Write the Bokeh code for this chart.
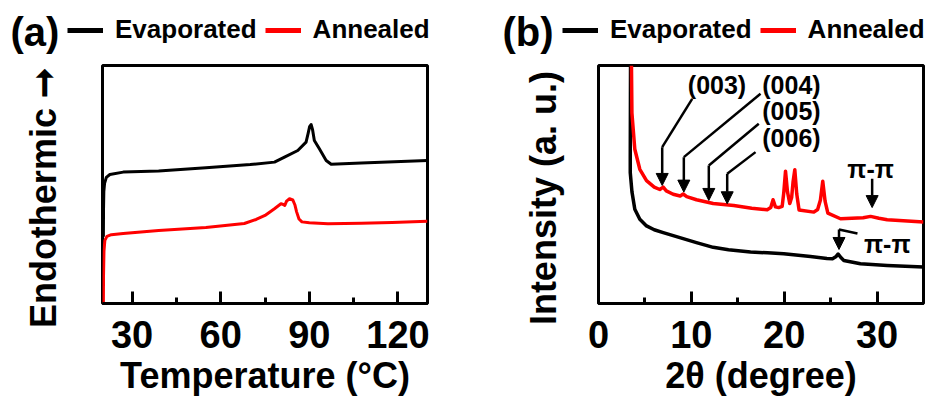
from bokeh.plotting import figure
from bokeh.layouts import row, column
from bokeh.models import (Range1d, FixedTicker, Legend, LegendItem, Arrow, LinearAxis, Label,
                          NormalHead, ColumnDataSource)
from bokeh.core.properties import value
from bokeh.embed import file_html
from bokeh.resources import INLINE

FONT = "Liberation Sans"

# ---------------- (a) DSC data ----------------
temp_evap = [20.3, 20.35, 20.45, 20.7, 21.3, 22.5, 27, 39, 55, 70, 78.2, 81.6, 86.1, 88.9,
             89.6, 90.1, 90.6, 91.1, 91.7, 93.4, 95.7, 97.4, 107.6, 130]
heat_evap = [28, 40, 47, 50.5, 53, 54.2, 55.2, 55.7, 57, 58.4, 59.4, 61.5, 64.3, 67.8,
             71.5, 74.3, 75.2, 73.0, 68.5, 65.0, 60.1, 58.5, 59.0, 60.1]
temp_anneal = [20.3, 20.35, 20.5, 20.8, 21.5, 23, 27, 39, 55, 68, 72, 75, 78.2, 80.4, 81.2,
               81.7, 82.3, 83.3, 84.4, 85.1, 85.7, 86.5, 87.5, 90, 96.3, 107.6, 118, 130]
heat_anneal = [0, 12, 22, 26.5, 28.2, 28.9, 29.4, 30.7, 31.9, 33.6, 35.3, 37.0, 39.8, 41.9, 41.6,
               41.2, 43.0, 44.0, 43.5, 41.5, 38.5, 35.5, 34.3, 33.9, 33.5, 33.7, 34.0, 34.6]
dsc_ticks = [30, 60, 90, 120]
dsc_minor = [45, 75, 105]

# ---------------- (b) XRD data ----------------
tt_evap = [3.45, 3.42, 3.42, 3.6, 3.91, 4.45, 5.17, 6.0, 6.97, 8.76, 10.55, 12.35, 14.0, 16.37,
           18.2, 19.95, 22.83, 24.6, 25.2, 25.55, 25.81, 26.1, 26.42, 28.21, 31.09, 35.0]
int_evap = [100, 62, 55, 47, 39.6, 35.4, 32.6, 31.0, 29.8, 27.7, 25.6, 23.6, 22.6, 21.6,
            21.3, 20.9, 19.7, 18.9, 18.8, 19.6, 20.8, 19.3, 18.1, 16.7, 16.0, 15.3]
tt_anneal = [3.55, 3.6, 3.91, 4.45, 5.17, 6.0, 6.6, 6.97, 7.3, 8.04, 8.8, 9.12, 9.5, 10.55,
             12.35, 14.57, 16.5, 18.17, 18.55, 18.8, 19.05, 19.4, 19.78, 19.95, 20.14, 20.35,
             20.6, 20.8, 20.95, 21.14, 21.35, 21.6, 23.19, 23.6, 23.9, 24.15, 24.4, 24.7,
             26.06, 28.5, 29.3, 30.2, 31.09, 35.0]
int_anneal = [100, 80, 64.8, 56.4, 51.6, 48.9, 47.9, 48.9, 47.3, 45.9, 45.2, 46.0, 44.9, 43.6,
              42.0, 41.2, 40.0, 39.4, 40.3, 43.6, 40.6, 40.3, 40.8, 46.5, 55.6, 47.0,
              42.0, 44.5, 51.0, 56.2, 46.0, 39.3, 38.4, 39.5, 43.5, 51.4, 43.0, 38.0,
              35.6, 36.0, 36.6, 35.8, 35.2, 34.2]
xrd_ticks = [0, 10, 20, 30]
xrd_minor = [5, 15, 25]

# peak annotations (label text, label position, leader start, bend, arrow tip)
peak_labels = ["(003)", "(004)", "(005)", "(006)", "π-π", "π-π"]
peak_label_x = [12.76, 20.78, 20.78, 20.78, 29.3, 31.1]
peak_label_y = [91.6, 91.6, 80.7, 69.5, 56.7, 24.8]
leader_x0 = [10.09, 17.45, 17.26, 16.91, 27.89]
leader_y0 = [86.0, 88.1, 75.5, 63.6, 29.4]
leader_x1 = [6.86, 9.19, 11.88, 13.86, 25.9]
leader_y1 = [65.7, 61.5, 58.0, 54.5, 31.1]
arrow_x = [6.86, 9.19, 11.88, 13.86, 25.9, 29.47]
arrow_y0 = [65.7, 61.5, 58.0, 54.5, 31.1, 52.4]
arrow_y1 = [49.6, 46.8, 43.3, 41.9, 22.7, 40.3]

series_names = ["Evaporated", "Annealed"]
panel_tags = ["(a)", "(b)"]
BLACK = "#000000"
RED = "#ff0000"

HEAD_H = 58
MAIN_H = 401 - HEAD_H
# non-breaking spaces after the y titles push their visible part slightly down,
# as in the original where they sit a little below the frame centre
PAD = "\u00a0\u00a0\u2009"


def make_fig(left, right, xr, ticks, minor, xlabel, ylabel, ygap):
    p = figure(width=465, height=MAIN_H, x_range=Range1d(*xr), y_range=Range1d(0, 100),
               output_backend="svg", toolbar_location=None, y_axis_location=None,
               min_border_left=left, min_border_right=right, min_border_top=65 - HEAD_H,
               min_border_bottom=98, title=None)
    p.grid.visible = False
    p.outline_line_color = "black"
    p.outline_line_width = 3
    p.outline_line_alpha = 1
    p.background_fill_color = "white"
    p.border_fill_color = "white"
    ax = p.xaxis[0]
    ax.ticker = FixedTicker(ticks=ticks, minor_ticks=minor)
    ax.axis_line_width = 3
    ax.major_tick_line_width = 3
    ax.minor_tick_line_width = 3
    ax.major_tick_in = 12
    ax.major_tick_out = 0
    ax.minor_tick_in = 6
    ax.minor_tick_out = 0
    ax.major_label_text_font = FONT
    ax.major_label_text_font_style = "bold"
    ax.major_label_text_font_size = "38px"
    ax.major_label_text_color = "black"
    ax.major_label_standoff = 17
    ax.axis_label = xlabel
    ax.axis_label_text_font = FONT
    ax.axis_label_text_font_style = "bold"
    ax.axis_label_text_font_size = "36px"
    ax.axis_label_text_color = "black"
    ax.axis_label_standoff = 4
    # y axis without ticks or tick labels (as in the original figure)
    yax = LinearAxis(ticker=FixedTicker(ticks=[]), axis_line_color=None,
                     major_tick_in=0, major_tick_out=0, minor_tick_in=0, minor_tick_out=0,
                     major_tick_line_color=None, minor_tick_line_color=None,
                     axis_label=ylabel + PAD, axis_label_standoff=ygap,
                     axis_label_text_font=FONT, axis_label_text_font_style="bold",
                     axis_label_text_font_size="36px", axis_label_text_color="black")
    p.add_layout(yax, "left")
    return p


# ---------------- header: panel tags and legends ----------------
head = figure(width=930, height=HEAD_H, x_range=Range1d(0, 930), y_range=Range1d(0, HEAD_H),
              output_backend="svg", toolbar_location=None, x_axis_location=None,
              y_axis_location=None, min_border_left=0, min_border_right=0,
              min_border_top=0, min_border_bottom=0, title=None)
head.grid.visible = False
head.outline_line_color = None
# hidden legend keys (thick lines as in the original legend)
ka_b = head.line(temp_evap, heat_evap, line_color=BLACK, line_width=5, visible=False)
ka_r = head.line(temp_anneal, heat_anneal, line_color=RED, line_width=5, visible=False)
kb_b = head.line(tt_evap, int_evap, line_color=BLACK, line_width=5, visible=False)
kb_r = head.line(tt_anneal, int_anneal, line_color=RED, line_width=5, visible=False)

for tag, tag_x, leg_x, kb, kr in [(panel_tags[0], 10, 67, ka_b, ka_r),
                                  (panel_tags[1], 502, 562, kb_b, kb_r)]:
    head.add_layout(Label(x=tag_x, y=HEAD_H - 31, x_units="screen", y_units="screen",
                          text=tag, text_font=FONT, text_font_style="bold",
                          text_font_size="40px", text_align="left",
                          text_baseline="alphabetic", text_color="black"))
    head.add_layout(Legend(items=[LegendItem(label=series_names[0], renderers=[kb]),
                                  LegendItem(label=series_names[1], renderers=[kr])],
                           orientation="horizontal", location=(leg_x, HEAD_H - 45),
                           padding=0, margin=0, spacing=8, label_standoff=12,
                           glyph_width=36, glyph_height=30, label_height=30,
                           label_text_font=FONT, label_text_font_style="bold",
                           label_text_font_size="26px", label_text_color="black",
                           border_line_color=None, background_fill_alpha=0), "center")

# ---------------- panel (a) ----------------
pa = make_fig(102, 38, (20, 130), dsc_ticks, dsc_minor, "Temperature (\u00b0C)",
              "Endothermic \u279e", 39)
pa.line(temp_evap, heat_evap, line_color=BLACK, line_width=3, line_join="round")
pa.line(temp_anneal, heat_anneal, line_color=RED, line_width=3, line_join="round")

# ---------------- panel (b) ----------------
pb = make_fig(133, 7, (0, 35), xrd_ticks, xrd_minor, "2\u03b8 (degree)",
              "Intensity (a. u.)", 35)
pb.line(tt_evap, int_evap, line_color=BLACK, line_width=3.5, line_join="round")
pb.line(tt_anneal, int_anneal, line_color=RED, line_width=3.5, line_join="round")

pb.segment(x0=leader_x0, y0=leader_y0, x1=leader_x1, y1=leader_y1,
           line_color="black", line_width=2.5)
arrow_src = ColumnDataSource(dict(x=arrow_x, y0=arrow_y0, y1=arrow_y1))
pb.add_layout(Arrow(end=NormalHead(size=12, fill_color="black", line_color="black",
                                   line_width=1),
                    x_start="x", y_start="y0", x_end="x", y_end="y1",
                    line_color="black", line_width=2.5, source=arrow_src))
pb.text(x=peak_label_x, y=peak_label_y, text=peak_labels, text_font=value(FONT),
        text_font_style="bold", text_font_size="25px", text_align="center",
        text_baseline="middle", text_color="black")

layout = column(head, row(pa, pb))
open("out.html", "w").write(file_html(layout, INLINE))
